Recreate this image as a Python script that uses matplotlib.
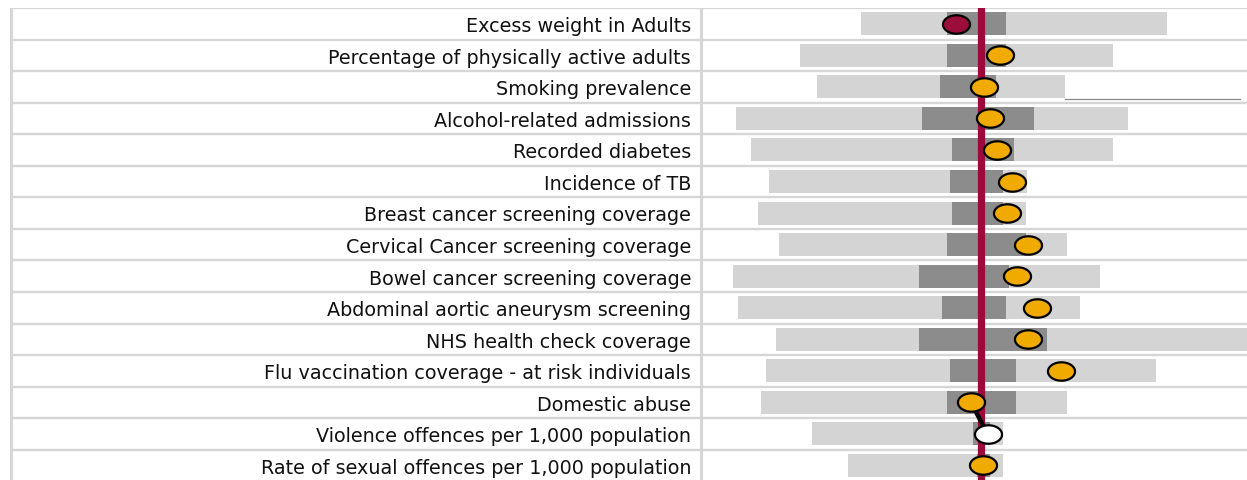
import numpy as np
import matplotlib
matplotlib.use("Agg")
import matplotlib.pyplot as plt
from matplotlib.path import Path

# --- indicator names (top to bottom) ---
labels = [
    "Excess weight in Adults",
    "Percentage of physically active adults",
    "Smoking prevalence",
    "Alcohol-related admissions",
    "Recorded diabetes",
    "Incidence of TB",
    "Breast cancer screening coverage",
    "Cervical Cancer screening coverage",
    "Bowel cancer screening coverage",
    "Abdominal aortic aneurysm screening",
    "NHS health check coverage",
    "Flu vaccination coverage - at risk individuals",
    "Domestic abuse",
    "Violence offences per 1,000 population",
    "Rate of sexual offences per 1,000 population",
]

# spine chart scale, England average = 50
england = 50
range_lo = [25.9, 13.7, 17.2, 0.9, 4.0, 7.5, 5.4, 9.6, 0.4, 1.4, 9.0, 7.0, 6.0, 16.2, 23.3]
range_hi = [87.1, 76.4, 66.8, 79.4, 76.4, 59.1, 59.0, 67.1, 73.8, 69.7, 104.0, 85.0, 67.1, 54.4, 54.4]
q_lo = [43.2, 43.2, 41.7, 38.1, 44.2, 43.8, 44.2, 43.2, 37.6, 42.2, 37.6, 43.8, 43.2, 48.4, 49.2]
q_hi = [55.0, 55.0, 52.9, 60.6, 56.5, 54.4, 54.4, 59.0, 55.5, 55.0, 63.1, 57.0, 57.0, 51.8, 51.8]
local = [44.9, 53.8, 50.6, 51.7, 53.2, 56.2, 55.2, 59.3, 57.2, 61.2, 59.3, 65.9, 48.0, 51.3, 50.4]
# significance: 'worse', 'similar', 'none'
signif = ['worse', 'similar', 'similar', 'similar', 'similar', 'similar', 'similar', 'similar',
          'similar', 'similar', 'similar', 'similar', 'similar', 'none', 'similar']

col_light = '#d4d4d4'
col_dark = '#8c8c8c'
col_grid = '#d6d6d6'
col_red = '#9b0a3a'
fill = {'worse': '#9b0d3b', 'similar': '#f0aa00', 'none': '#ffffff'}

W, H = 1247, 481
fig = plt.figure(figsize=(W / 100, H / 100), dpi=100)

top_px, left_px, sep_px = 9, 10, 700
n = len(labels)
row_h = 31.55
ylo = -0.5 + (H - top_px) / row_h
ax_h = (H - top_px) / H

# label panel
axl = fig.add_axes([left_px / W, 0, (sep_px - left_px) / W, ax_h])
# chart panel
ax = fig.add_axes([sep_px / W, 0, (W - sep_px) / W, ax_h])

for a in (axl, ax):
    a.set_ylim(ylo, -0.5)
    a.axis('off')
    for b in np.arange(-0.5, n, 1.0):
        a.axhline(b, color=col_grid, lw=1.7, zorder=0)

axl.set_xlim(0, 1)
axl.axvline(0.002, color=col_grid, lw=2.2)
ax.set_xlim(50 + (sep_px - 981) / 5, 50 + (W - 981) / 5)
ax.axvline(ax.get_xlim()[0] + 0.12, color=col_grid, lw=2.2)

y = np.arange(n)
for i in range(n):
    axl.text(0.987, i + 0.06, labels[i], ha='right', va='center',
             fontsize=13.8, family='DejaVu Sans', color='#111111')

bh = 0.73
ax.barh(y, np.array(range_hi) - np.array(range_lo), left=range_lo, height=bh,
        color=col_light, zorder=1)
ax.barh(y, np.array(q_hi) - np.array(q_lo), left=q_lo, height=bh,
        color=col_dark, zorder=2)

# stray thin line on smoking row (as in the original)
ax.plot([range_hi[2], 101.8], [2.38, 2.38], color='#888888', lw=0.9, zorder=2)

ax.axvline(england, color=col_red, lw=5.2, zorder=3)

# connector between domestic abuse and violence markers
ax.plot([local[12], local[13]], [12, 13], color='black', lw=3.2, zorder=4,
        solid_capstyle='butt')

t = np.linspace(0, 2 * np.pi, 60)
ell = Path(np.column_stack([np.cos(t), 0.68 * np.sin(t)]))
for i in range(n):
    ax.plot(local[i], i, marker=ell, markersize=19.5, markerfacecolor=fill[signif[i]],
            markeredgecolor='black', markeredgewidth=1.6, zorder=5, ls='none')

fig.savefig('out.png', dpi=100)
